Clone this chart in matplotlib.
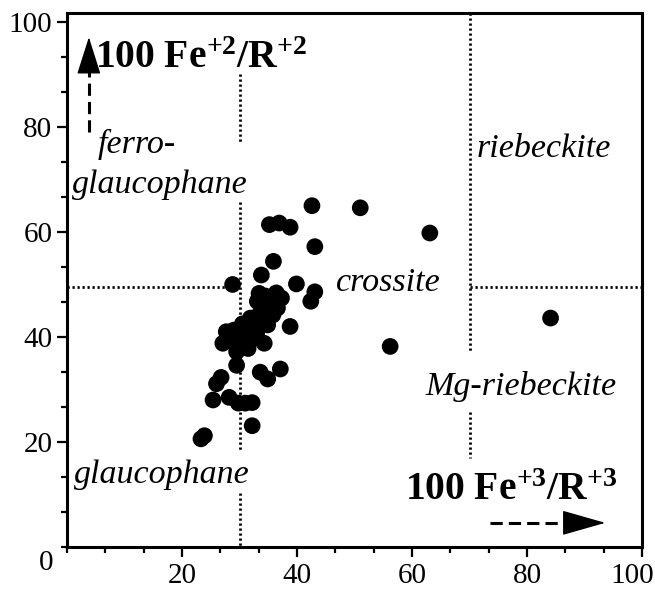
import matplotlib
matplotlib.use("Agg")
import matplotlib.pyplot as plt
from matplotlib.ticker import MultipleLocator
from matplotlib.transforms import ScaledTranslation

# Data: 100 Fe+3/R+3 (x) vs 100 Fe+2/R+2 (y)
fe3 = [42.6, 51.0, 63.1, 84.1, 56.2, 35.2, 36.9, 38.8, 43.1, 35.9,
       33.8, 28.8, 39.9, 43.1, 42.4, 38.8, 29.5, 33.6, 34.9, 37.1,
       26.8, 26.0, 25.4, 28.2, 29.8, 31.0, 32.2, 32.2, 23.3, 23.9,
       33.1, 34.5, 36.4, 37.3, 35.5, 33.7, 35.8, 31.9, 33.5, 34.9,
       32.0, 27.7, 29.0, 30.1, 31.2, 32.5, 34.3, 27.1, 28.3, 29.5,
       30.8, 29.5, 31.5, 36.6, 30.5, 33.0, 33.4]
fe2 = [65.0, 64.6, 59.8, 43.6, 38.2, 61.4, 61.7, 60.9, 57.2, 54.4,
       51.8, 50.0, 50.1, 48.6, 46.8, 42.0, 34.6, 33.3, 32.0, 33.9,
       32.3, 31.1, 28.0, 28.5, 27.4, 27.4, 27.5, 23.1, 20.6, 21.2,
       46.8, 47.8, 48.4, 47.4, 46.0, 44.9, 44.2, 43.6, 42.8, 42.3,
       41.5, 41.0, 41.3, 40.7, 40.0, 39.7, 38.8, 38.8, 39.5, 38.5,
       38.0, 37.2, 37.8, 45.5, 42.5, 40.8, 48.3]

# field boundaries (dotted), broken where the labels sit
x_bound_30 = [(90, 77), (65.7, 18), (10.3, 0)]
x_bound_70 = [(101.7, 37.1), (25.7, 17.0)]
y_bound = 49.5
y_bound_spans = [(0, 29), (70, 100)]

x_ticks = [20, 40, 60, 80, 100]
y_ticks = [20, 40, 60, 80, 100]

plt.rcParams["font.family"] = "Liberation Serif"
plt.rcParams["mathtext.fontset"] = "custom"
plt.rcParams["mathtext.rm"] = "Liberation Serif"
plt.rcParams["mathtext.bf"] = "Liberation Serif:bold"
plt.rcParams["mathtext.it"] = "Liberation Serif:italic"

fig = plt.figure(figsize=(6.55, 5.89), dpi=100)
ax = fig.add_axes([67 / 655, 42 / 589, 575 / 655, 534 / 589])

dot = dict(color="black", lw=2.0, ls=(0, (0.8, 1.0)), zorder=1)
for y0, y1 in x_bound_30:
    ax.plot([30, 30], [y0, y1], **dot)
for y0, y1 in x_bound_70:
    ax.plot([70, 70], [y0, y1], **dot)
for x0, x1 in y_bound_spans:
    ax.plot([x0, x1], [y_bound, y_bound], **dot)

ax.scatter(fe3, fe2, s=145, color="black", edgecolors="none", zorder=3)

# field names
lab = dict(fontsize=24.5, style="italic", color="black", va="baseline")
ax.text(5.4, 75.0, "ferro-", **lab)
ax.text(0.9, 67.4, "glaucophane", **lab)
ax.text(71.3, 74.3, "riebeckite", **lab)
ax.text(46.8, 48.8, "crossite", **lab)
ax.text(62.3, 29.0, "Mg-riebeckite", **lab)
ax.text(1.3, 12.2, "glaucophane", **lab)

# axis captions with arrows
ax.text(4.9, 91.2, r"$\mathbf{100\ Fe^{+2}/R^{+2}}$", fontsize=28.5, va="baseline")
ax.text(58.8, 9.0, r"$\mathbf{100\ Fe^{+3}/R^{+3}}$", fontsize=28.5, va="baseline")

ax.plot([3.8, 3.8], [79, 91.5], color="black", lw=2.2, ls=(0, (4, 2)))
ax.annotate("", xy=(3.8, 97.1), xytext=(3.8, 90.5),
            arrowprops=dict(arrowstyle="-|>,head_length=1.2,head_width=0.38",
                            color="black", lw=1, mutation_scale=20,
                            shrinkA=0, shrinkB=0))
ax.plot([73.6, 87.5], [4.6, 4.6], color="black", lw=2.2, ls=(0, (4, 2)))
ax.annotate("", xy=(93.6, 4.6), xytext=(86.8, 4.6),
            arrowprops=dict(arrowstyle="-|>,head_length=1.4,head_width=0.4",
                            color="black", lw=1, mutation_scale=20,
                            shrinkA=0, shrinkB=0))

ax.set_xlim(0, 100)
ax.set_ylim(0, 101.7)
ax.set_xticks(x_ticks)
ax.set_yticks(y_ticks)
ax.xaxis.set_minor_locator(MultipleLocator(20 / 3))
ax.yaxis.set_minor_locator(MultipleLocator(20 / 3))
ax.tick_params(which="major", direction="out", length=7.5, width=1.6,
               labelsize=21)
ax.tick_params(which="minor", direction="out", length=4, width=1.6)
ax.tick_params(axis="x", pad=4)
ax.tick_params(axis="y", pad=3)
ax.text(-3.6, -3.1, "0", fontsize=21, ha="center", va="center", clip_on=False)

# keep the last x label inside the picture like the original
last = ax.get_xticklabels()[-1]
last.set_transform(last.get_transform() + ScaledTranslation(-10 / 100, 0, fig.dpi_scale_trans))

for s in ax.spines.values():
    s.set_linewidth(2.2)

fig.savefig("out.png", dpi=100)
